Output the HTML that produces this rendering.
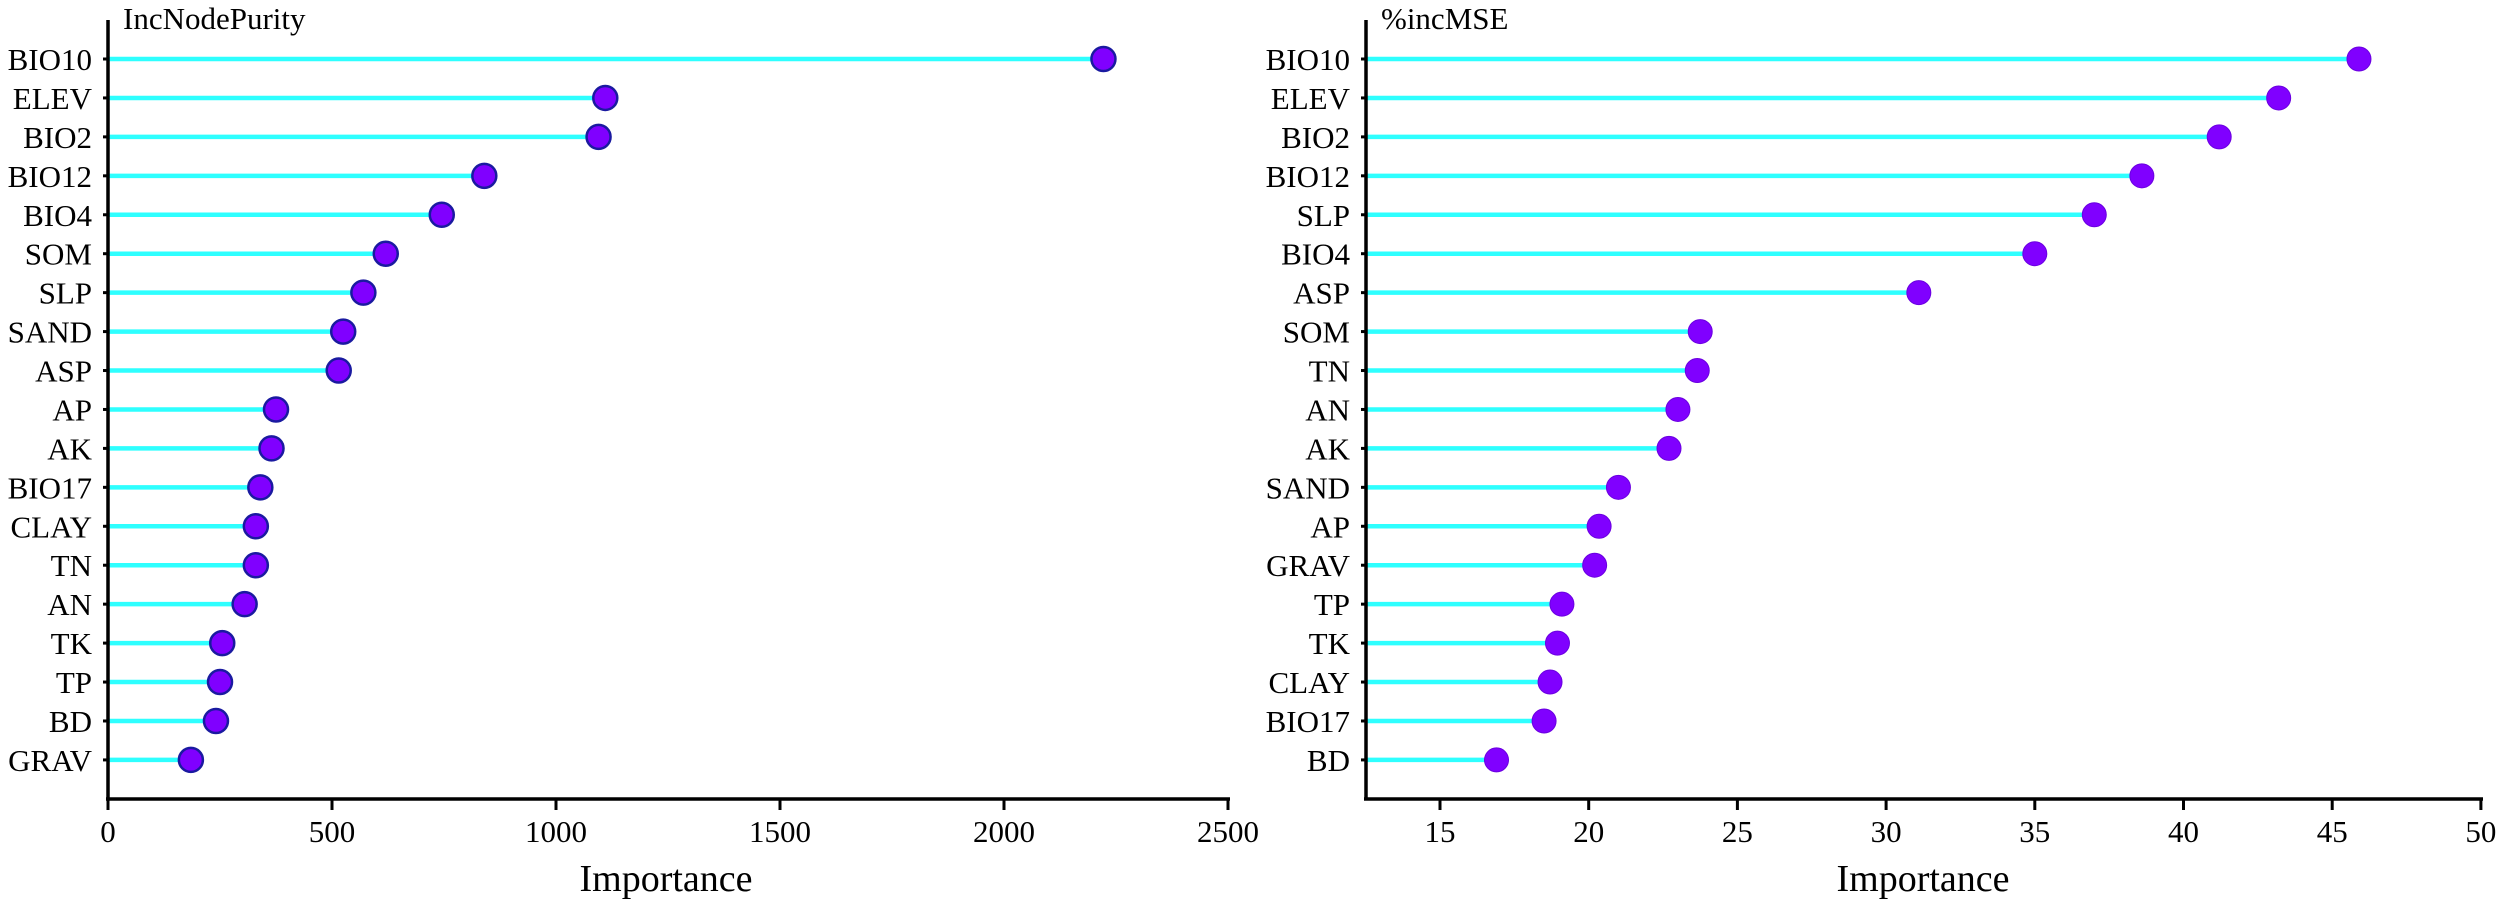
<!DOCTYPE html>
<html><head><meta charset="utf-8"><style>html,body{margin:0;padding:0;background:#fff}svg{display:block}</style></head>
<body>
<svg width="2500" height="904" xmlns="http://www.w3.org/2000/svg" font-family="Liberation Serif, serif">
<rect width="2500" height="904" fill="#fff"/>
<g id="L"></g>
<g id="R"></g>
<script>
const NS="http://www.w3.org/2000/svg";
function el(p,t,a,txt){const e=document.createElementNS(NS,t);for(const k in a)e.setAttribute(k,a[k]);if(txt!==undefined)e.textContent=txt;p.appendChild(e);return e;}
function panel(g,ax,xEnd,map,ticks,title,data,stroke,sw,xlabC){
  const y0=59,dy=38.94;
  el(g,'text',{x:ax+15,y:29,'font-size':31},title);
  data.forEach((d,i)=>{const y=y0+i*dy,x=map(d[1]);
    el(g,'line',{x1:ax-5,x2:ax,y1:y,y2:y,stroke:'#000','stroke-width':3});
    el(g,'line',{x1:ax,x2:x,y1:y,y2:y,stroke:'#2effff','stroke-width':4.5});
    el(g,'text',{x:ax-16,y:y+11,'font-size':31,'text-anchor':'end'},d[0]);
  });
  data.forEach((d,i)=>{const y=y0+i*dy,x=map(d[1]);
    el(g,'circle',{cx:x,cy:y,r:12,fill:'#8000ff',stroke:stroke,'stroke-width':sw});
  });
  el(g,'line',{x1:ax,x2:ax,y1:20,y2:800,stroke:'#000','stroke-width':3.5});
  el(g,'line',{x1:ax-2,x2:xEnd+2,y1:799,y2:799,stroke:'#000','stroke-width':3.5});
  ticks.forEach(t=>{const x=map(t);
    el(g,'line',{x1:x,x2:x,y1:799,y2:810,stroke:'#000','stroke-width':3});
    el(g,'text',{x:x,y:842,'font-size':31,'text-anchor':'middle'},t);
  });
  el(g,'text',{x:xlabC,y:891,'font-size':38,'text-anchor':'middle'},'Importance');
}
panel(document.getElementById('L'),108,1228,v=>108+v*0.448,[0,500,1000,1500,2000,2500],'IncNodePurity',
[['BIO10',2222],['ELEV',1110],['BIO2',1095],['BIO12',840],['BIO4',745],['SOM',620],['SLP',570],['SAND',525],['ASP',515],['AP',375],['AK',365],['BIO17',340],['CLAY',330],['TN',330],['AN',305],['TK',255],['TP',250],['BD',241],['GRAV',185]],
'#1a1aa0',2.5,666);
panel(document.getElementById('R'),1366,2481,v=>1440+(v-15)*29.74,[15,20,25,30,35,40,45,50],'%incMSE',
[['BIO10',45.9],['ELEV',43.2],['BIO2',41.2],['BIO12',38.6],['SLP',37.0],['BIO4',35.0],['ASP',31.1],['SOM',23.75],['TN',23.65],['AN',23.0],['AK',22.7],['SAND',21.0],['AP',20.35],['GRAV',20.2],['TP',19.1],['TK',18.95],['CLAY',18.7],['BIO17',18.5],['BD',16.9]],
'#6a00e0',1,1923);
</script>
</svg>
</body></html>
